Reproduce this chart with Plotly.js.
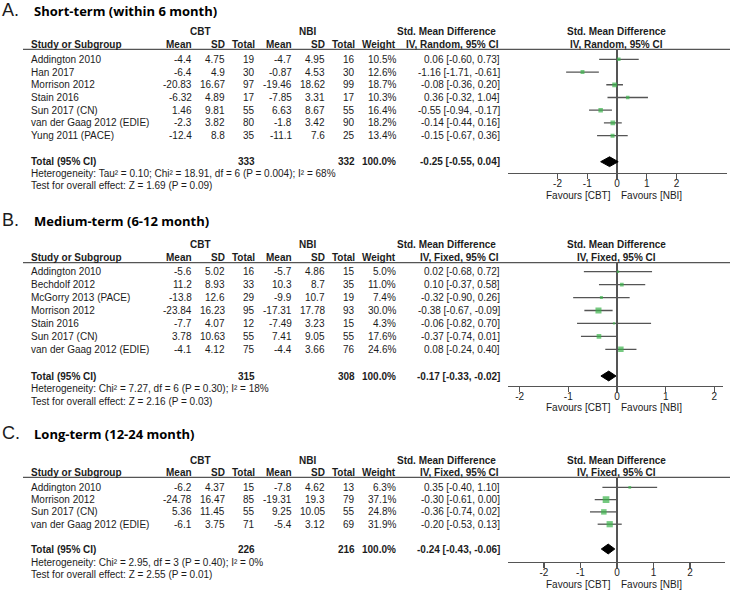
<!DOCTYPE html>
<html><head><meta charset="utf-8">
<script src="https://cdn.plot.ly/plotly-3.0.1.min.js"></script>
<style>html,body{margin:0;padding:0;background:#fff}#chart{width:730px;height:591px}</style>
</head><body><div id="chart"></div>
<script>
// ---------- Panel A: Short-term (within 6 month), IV Random ----------
const studiesA = ['Addington 2010','Han 2017','Morrison 2012','Stain 2016','Sun 2017 (CN)','van der Gaag 2012 (EDIE)','Yung 2011 (PACE)'];
const cbtMeanA = [-4.4, -6.4, -20.83, -6.32, 1.46, -2.3, -12.4];
const cbtSDA   = [4.75, 4.9, 16.67, 4.89, 9.81, 3.82, 8.8];
const cbtNA    = [19, 30, 97, 17, 55, 80, 35];
const nbiMeanA = [-4.7, -0.87, -19.46, -7.85, 6.63, -1.8, -11.1];
const nbiSDA   = [4.95, 4.53, 18.62, 3.31, 8.67, 3.42, 7.6];
const nbiNA    = [16, 30, 99, 17, 55, 90, 25];
const weightA  = [10.5, 12.6, 18.7, 10.3, 16.4, 18.2, 13.4];
const smdA     = [0.06, -1.16, -0.08, 0.36, -0.55, -0.14, -0.15];
const lowA     = [-0.60, -1.71, -0.36, -0.32, -0.94, -0.44, -0.67];
const highA    = [0.73, -0.61, 0.20, 1.04, -0.17, 0.16, 0.36];
const totalsA  = [333, 332];
const totalWeightA = 100.0;
const pooledA  = [-0.25, -0.55, 0.04];
const hetA  = 'Heterogeneity: Tau² = 0.10; Chi² = 18.91, df = 6 (P = 0.004); I² = 68%';
const testA = 'Test for overall effect: Z = 1.69 (P = 0.09)';

// ---------- Panel B: Medium-term (6-12 month), IV Fixed ----------
const studiesB = ['Addington 2010','Bechdolf 2012','McGorry 2013 (PACE)','Morrison 2012','Stain 2016','Sun 2017 (CN)','van der Gaag 2012 (EDIE)'];
const cbtMeanB = [-5.6, 11.2, -13.8, -23.84, -7.7, 3.78, -4.1];
const cbtSDB   = [5.02, 8.93, 12.6, 16.23, 4.07, 10.63, 4.12];
const cbtNB    = [16, 33, 29, 95, 12, 55, 75];
const nbiMeanB = [-5.7, 10.3, -9.9, -17.31, -7.49, 7.41, -4.4];
const nbiSDB   = [4.86, 8.7, 10.7, 17.78, 3.23, 9.05, 3.66];
const nbiNB    = [15, 35, 19, 93, 15, 55, 76];
const weightB  = [5.0, 11.0, 7.4, 30.0, 4.3, 17.6, 24.6];
const smdB     = [0.02, 0.10, -0.32, -0.38, -0.06, -0.37, 0.08];
const lowB     = [-0.68, -0.37, -0.90, -0.67, -0.82, -0.74, -0.24];
const highB    = [0.72, 0.58, 0.26, -0.09, 0.70, 0.01, 0.40];
const totalsB  = [315, 308];
const totalWeightB = 100.0;
const pooledB  = [-0.17, -0.33, -0.02];
const hetB  = 'Heterogeneity: Chi² = 7.27, df = 6 (P = 0.30); I² = 18%';
const testB = 'Test for overall effect: Z = 2.16 (P = 0.03)';

// ---------- Panel C: Long-term (12-24 month), IV Fixed ----------
const studiesC = ['Addington 2010','Morrison 2012','Sun 2017 (CN)','van der Gaag 2012 (EDIE)'];
const cbtMeanC = [-6.2, -24.78, 5.36, -6.1];
const cbtSDC   = [4.37, 16.47, 11.45, 3.75];
const cbtNC    = [15, 85, 55, 71];
const nbiMeanC = [-7.8, -19.31, 9.25, -5.4];
const nbiSDC   = [4.62, 19.3, 10.05, 3.12];
const nbiNC    = [13, 79, 55, 69];
const weightC  = [6.3, 37.1, 24.8, 31.9];
const smdC     = [0.35, -0.30, -0.36, -0.20];
const lowC     = [-0.40, -0.61, -0.74, -0.53];
const highC    = [1.10, 0.00, 0.02, 0.13];
const totalsC  = [226, 216];
const totalWeightC = 100.0;
const pooledC  = [-0.24, -0.43, -0.06];
const hetC  = 'Heterogeneity: Chi² = 2.95, df = 3 (P = 0.40); I² = 0%';
const testC = 'Test for overall effect: Z = 2.55 (P = 0.01)';

// ---------- labels ----------
const panelLetters = ['A.', 'B.', 'C.'];
const panelTitles  = ['Short-term (within 6 month)', 'Medium-term (6-12 month)', 'Long-term (12-24 month)'];
const panelMethods = ['IV, Random, 95% CI', 'IV, Fixed, 95% CI', 'IV, Fixed, 95% CI'];
const groupLabels  = ['CBT', 'NBI'];
const colHeaders   = ['Mean', 'SD', 'Total', 'Mean', 'SD', 'Total'];
const tickVals     = [-2, -1, 0, 1, 2];
const tickLabels   = ['-2', '-1', '0', '1', '2'];
const favourLabels = ['Favours [CBT]', 'Favours [NBI]'];

// ---------- layout geometry (pixels) ----------
const W = 730, H = 591;
const FONT = '"Liberation Sans", Arial, sans-serif';
const TFONT = '"Open Sans", "Liberation Sans", sans-serif';
const TXT = '#1c1c1c';
const GREEN = '#3cb44b';
const LINE = '#555555';
const COLX = [192, 224.5, 255, 292, 325, 355]; // right edges of numeric columns
const geo = [
  {letterY:10, titleY:11, grpY:32, colY:44.3, lineY:49.3, r0:59.3, step:12.73, totalY:161.7, hetY:173.5, testY:185.5, axisY:173, favY:195, xd:[508,727], xr:[-3.664,3.697]},
  {letterY:220, titleY:221, grpY:245, colY:257.7, lineY:262.7, r0:271.7, step:12.93, totalY:376, hetY:388.5, testY:401, axisY:386, favY:407, xd:[508,723], xr:[-2.238,2.177]},
  {letterY:433, titleY:434, grpY:460, colY:472.7, lineY:477.3, r0:487.3, step:12.3, totalY:549, hetY:562, testY:574, axisY:562, favY:584, xd:[508,725], xr:[-2.986,2.959]}
];

const panels = [
  {studies:studiesA, cm:cbtMeanA, cs:cbtSDA, cn:cbtNA, nm:nbiMeanA, ns:nbiSDA, nn:nbiNA, w:weightA, smd:smdA, lo:lowA, hi:highA, tot:totalsA, tw:totalWeightA, pool:pooledA, het:hetA, test:testA},
  {studies:studiesB, cm:cbtMeanB, cs:cbtSDB, cn:cbtNB, nm:nbiMeanB, ns:nbiSDB, nn:nbiNB, w:weightB, smd:smdB, lo:lowB, hi:highB, tot:totalsB, tw:totalWeightB, pool:pooledB, het:hetB, test:testB},
  {studies:studiesC, cm:cbtMeanC, cs:cbtSDC, cn:cbtNC, nm:nbiMeanC, ns:nbiSDC, nn:nbiNC, w:weightC, smd:smdC, lo:lowC, hi:highC, tot:totalsC, tw:totalWeightC, pool:pooledC, het:hetC, test:testC}
];

const annotations = [], shapes = [], traces = [];
const layout = {width:W, height:H, margin:{l:0,r:0,t:0,b:0}, paper_bgcolor:'#fff', plot_bgcolor:'rgba(0,0,0,0)', showlegend:false, hovermode:false};

function pyf(p){ return 1 - p / H; }
function pxf(p){ return p / W; }
function addText(text, x, y, anchor, extra){
  annotations.push(Object.assign({text:text, x:pxf(x), y:pyf(y), xref:'paper', yref:'paper',
    xanchor:anchor, yanchor:'middle', showarrow:false, borderpad:0, borderwidth:0,
    font:{family:FONT, size:10, color:TXT}}, extra || {}));
}
function ci(e, l, h){ return e.toFixed(2) + ' [' + l.toFixed(2) + ', ' + h.toFixed(2) + ']'; }

panels.forEach(function(p, k){
  const g = geo[k];
  const sfx = k === 0 ? '' : String(k + 1);
  const xa = 'x' + sfx, ya = 'y' + sfx;
  const rowY = function(i){ return g.r0 + i * g.step; };

  // titles
  addText(panelLetters[k], 2, g.letterY, 'left', {font:{family:FONT, size:18, color:TXT}});
  addText('<b>' + panelTitles[k] + '</b>', 34, g.titleY, 'left', {font:{family:TFONT, size:13, color:'#000'}});
  // group headers
  addText('<b>' + groupLabels[0] + '</b>', 200.5, g.grpY, 'center');
  addText('<b>' + groupLabels[1] + '</b>', 307.5, g.grpY, 'center');
  addText('<b>Std. Mean Difference</b>', 496, g.grpY, 'right');
  addText('<b>Std. Mean Difference</b>', 616, g.grpY, 'center');
  // column headers
  addText('<b>Study or Subgroup</b>', 31, g.colY, 'left');
  colHeaders.forEach(function(h, j){ addText('<b>' + h + '</b>', COLX[j], g.colY, 'right'); });
  addText('<b>Weight</b>', 396, g.colY, 'right');
  addText('<b>' + panelMethods[k] + '</b>', 499, g.colY, 'right');
  addText('<b>' + panelMethods[k] + '</b>', 616.5, g.colY, 'center');
  shapes.push({type:'line', xref:'paper', yref:'paper', x0:pxf(23), x1:1, y0:pyf(g.lineY), y1:pyf(g.lineY), line:{color:LINE, width:1.3}});

  // study rows
  p.studies.forEach(function(s, i){
    const y = rowY(i);
    addText(s, 31, y, 'left');
    const vals = [p.cm[i], p.cs[i], p.cn[i], p.nm[i], p.ns[i], p.nn[i]];
    vals.forEach(function(v, j){ addText(String(v), COLX[j], y, 'right'); });
    addText(p.w[i].toFixed(1) + '%', 396, y, 'right');
    addText(ci(p.smd[i], p.lo[i], p.hi[i]), 500, y, 'right');
  });
  // total row
  addText('<b>Total (95% CI)</b>', 31, g.totalY, 'left');
  addText('<b>' + p.tot[0] + '</b>', COLX[2], g.totalY, 'right');
  addText('<b>' + p.tot[1] + '</b>', COLX[5], g.totalY, 'right');
  addText('<b>' + p.tw.toFixed(1) + '%</b>', 396, g.totalY, 'right');
  addText('<b>' + ci(p.pool[0], p.pool[1], p.pool[2]) + '</b>', 500, g.totalY, 'right');
  addText(p.het, 31, g.hetY, 'left');
  addText(p.test, 31, g.testY, 'left');
  // favours
  addText(favourLabels[0], 611, g.favY, 'right');
  addText(favourLabels[1], 621, g.favY, 'left');

  // axes
  layout['xaxis' + sfx] = {domain:[pxf(g.xd[0]), pxf(g.xd[1])], range:g.xr, anchor:ya,
    showline:true, linecolor:LINE, linewidth:1.3, ticks:'outside', ticklen:5, tickwidth:1.3, tickcolor:LINE,
    tickvals:tickVals, ticktext:tickLabels, tickfont:{family:FONT, size:10, color:TXT}, ticklabelstandoff:-4,
    zeroline:true, zerolinecolor:LINE, zerolinewidth:1.3, showgrid:false, fixedrange:true};
  layout['yaxis' + sfx] = {domain:[pyf(g.axisY), pyf(g.lineY)], range:[(g.axisY - g.r0) / g.step, (g.lineY - g.r0) / g.step],
    anchor:xa, visible:false, showgrid:false, zeroline:false, fixedrange:true};

  // CI lines
  const lx = [], ly = [];
  p.smd.forEach(function(v, i){ lx.push(p.lo[i], p.hi[i], null); ly.push(i, i, null); });
  traces.push({type:'scatter', mode:'lines', x:lx, y:ly, xaxis:xa, yaxis:ya, line:{color:LINE, width:1.3}, hoverinfo:'skip'});
  // squares
  traces.push({type:'scatter', mode:'markers', x:p.smd, y:p.smd.map(function(v, i){ return i; }), xaxis:xa, yaxis:ya,
    marker:{symbol:'square', color:GREEN, size:p.w.map(function(w){ return Math.max(2, 1.1 * Math.sqrt(w)); }), line:{width:0}}, hoverinfo:'skip'});
  // diamond
  const ty = (g.totalY - g.r0) / g.step, dh = 4.9 / g.step;
  traces.push({type:'scatter', mode:'lines', fill:'toself', fillcolor:'#000',
    x:[p.pool[1], p.pool[0], p.pool[2], p.pool[0], p.pool[1]], y:[ty, ty - dh, ty, ty + dh, ty],
    xaxis:xa, yaxis:ya, line:{color:'#000', width:1}, hoverinfo:'skip'});
});

layout.annotations = annotations;
layout.shapes = shapes;
Plotly.newPlot('chart', traces, layout, {displayModeBar:false, staticPlot:true});
</script></body></html>
